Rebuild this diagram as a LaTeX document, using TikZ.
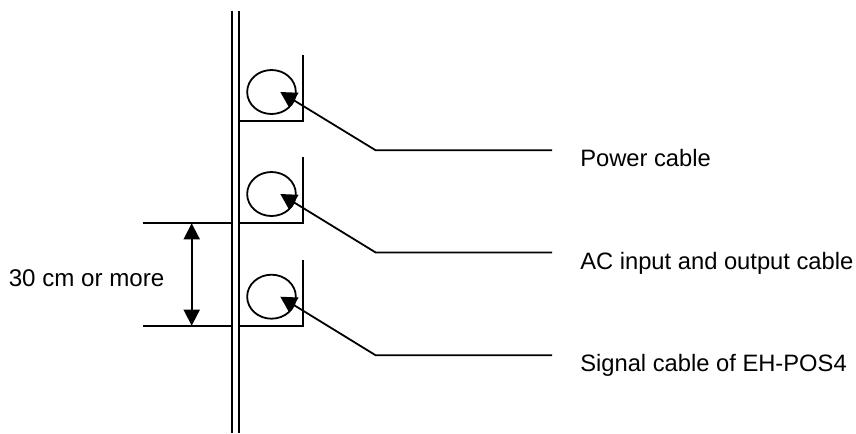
\documentclass[tikz,border=0pt]{standalone}
\usepackage{fontspec}
\setmainfont{Liberation Sans}
\usetikzlibrary{arrows.meta,shapes.geometric}
\tikzset{
  px/.style={x=0.75pt,y=-0.75pt},
  ln/.style={draw=black,line width=1.35pt},
  cable/.style={ln,ellipse,minimum width=36.5pt,minimum height=33pt,inner sep=0pt},
  lead/.style={ln,-{Triangle[length=12pt,width=13pt]}},
  dim/.style={ln,{Triangle[length=12pt,width=12pt]}-{Triangle[length=12pt,width=12pt]}},
  lbl/.style={anchor=base west,inner sep=0pt,font=\fontsize{17.8}{20}\selectfont}
}
\begin{document}
\begin{tikzpicture}[px]
\useasboundingbox (0,0) rectangle (856,433);
% wall
\coordinate (w1t) at (231.7,11); \coordinate (w1b) at (231.7,433);
\coordinate (w2t) at (239.3,11); \coordinate (w2b) at (239.3,433);
\draw[ln] (w1t) -- (w1b);
\draw[ln] (w2t) -- (w2b);
% trays
\foreach \n/\t/\b/\c/\bend in {a/55/121/92/150.3,b/157/223.3/194/252.5,c/260/325.7/296.7/355.3}{
  \coordinate (t\n) at (303.3,\t);
  \coordinate (c\n) at (303.3,\b);
  \coordinate (l\n) at (239.3,\b);
  \draw[ln] (t\n) -- (c\n) -- (l\n);
  \node[cable] (o\n) at (271.5,\c) {};
  \coordinate (tip\n) at (280.3,\c);
  \coordinate (bend\n) at (375.7,\bend);
  \coordinate (end\n) at (552,\bend);
  \draw[lead] (end\n) -- (bend\n) -- (tip\n);
}
% dimension
\coordinate (d1l) at (142.7,223.3); \coordinate (d1r) at (231.7,223.3);
\coordinate (d2l) at (142.7,325.7); \coordinate (d2r) at (231.7,325.7);
\draw[ln] (d1l) -- (d1r);
\draw[ln] (d2l) -- (d2r);
\coordinate (da) at (191.7,223.3); \coordinate (db) at (191.7,325.7);
\draw[dim] (da) -- (db);
% labels
\node[lbl] (p) at (580,166.5) {Power cable};
\node[lbl] (ac) at (580,269) {AC input and output cable};
\node[lbl] (s) at (580,371.5) {Signal cable of EH-POS4};
\node[lbl,font=\fontsize{18.1}{20}\selectfont] (m) at (8.5,286.7) {30 cm or more};
\end{tikzpicture}
\end{document}
